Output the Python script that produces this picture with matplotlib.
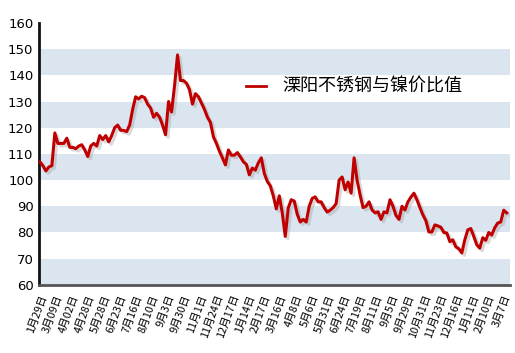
import matplotlib
matplotlib.use("Agg")
import matplotlib.pyplot as plt
import matplotlib.patheffects as pe
import numpy as np

plt.rcParams['font.family'] = ['Noto Sans CJK SC', 'DejaVu Sans']

# ratio series (evenly spaced trading days)
ratio = [
    107, 105.5, 103.5, 105, 105.5, 118, 114, 114, 114, 116,
    112.5, 112.5, 112, 113, 113.5, 111.5, 109, 113, 114, 113,
    117, 115.5, 117, 114.6, 117, 120, 121, 119, 119, 118.5,
    121, 127, 131.8, 131, 132, 131.5, 129, 127.5, 124, 125.5,
    124, 121, 117.3, 130, 126, 136, 147.8, 138, 138, 137,
    134.5, 129, 133, 131.8, 129.4, 127, 124, 122, 116.5, 114,
    111, 108.5, 105.8, 111.5, 109.5, 109.5, 110.5, 108.9, 107, 106,
    102, 104.6, 103.8, 106.6, 108.5, 102.5, 99.5, 97.8, 94, 89,
    94, 87.5, 78.5, 89.4, 92.5, 92, 87, 84, 85, 84,
    90, 93, 93.6, 91.7, 91.7, 89.5, 87.8, 88.5, 89.5, 91,
    100, 101.2, 96.3, 99.3, 95, 108.5, 100, 94.4, 89.5, 90,
    91.7, 88.6, 87.5, 87.9, 85, 87.9, 87.5, 92.5, 90, 86.5,
    85, 90, 88.6, 91.7, 93.5, 95, 92.5, 89.5, 86.7, 84.5,
    80.2, 80.2, 82.9, 82.5, 82, 80, 79.8, 76.5, 77.2, 74.5,
    73.8, 72.2, 77.2, 81, 81.5, 78.5, 75.3, 74, 78, 77,
    80, 79, 81.8, 83.6, 84, 88.5, 87.5,
]

date_labels = [
    "1月29日", "3月09日", "4月02日", "4月28日", "5月28日", "6月23日",
    "7月16日", "8月10日", "9月3日", "9月30日", "11月1日", "11月24日",
    "12月17日", "1月14日", "2月17日", "3月16日", "4月8日", "5月6日",
    "5月31日", "6月24日", "7月19日", "8月11日", "9月5日", "9月29日",
    "10月31日", "11月23日", "12月16日", "1月11日", "2月10日", "3月7日",
]

series_name = "溧阳不锈钢与镍价比值"

fig = plt.figure(figsize=(5.15, 3.53), dpi=100)
ax = fig.add_axes([0.0757, 0.193, 0.914, 0.742])

# alternating blue bands
for lo in range(60, 160, 20):
    ax.axhspan(lo, lo + 10, color="#dbe5f0", lw=0, zorder=0)

x = np.arange(len(ratio))
ax.plot(x, ratio, color="#c00000", lw=2.2, label=series_name, zorder=3,
        solid_joinstyle="round",
        path_effects=[pe.SimpleLineShadow(offset=(1.8, -1.8),
                                          shadow_color="#a0a0a0", alpha=0.4),
                      pe.Normal()])

ax.set_xlim(0, 157)
ax.set_ylim(60, 160)
ax.set_yticks(range(60, 161, 10))
ax.tick_params(axis="y", length=0, pad=4, labelsize=9.5)
ax.set_yticklabels([str(v) for v in range(60, 161, 10)], family="DejaVu Sans")

ticks = np.linspace(-0.3, 154.7, len(date_labels))
ax.set_xticks(ticks)
ax.set_xticklabels(date_labels, rotation=70, ha="right", va="top",
                   rotation_mode="anchor", fontsize=7.8)
ax.tick_params(axis="x", length=0, pad=6)

for s in ("top", "right"):
    ax.spines[s].set_visible(False)
ax.spines["left"].set_linewidth(2.0)
ax.spines["left"].set_color("#111111")
ax.spines["bottom"].set_linewidth(2.0)
ax.spines["bottom"].set_color("#555555")

leg = ax.legend(loc="center left", bbox_to_anchor=(0.44, 0.756),
                frameon=False, borderpad=0, borderaxespad=0,
                handlelength=1.1, handletextpad=0.9, prop={"size": 13})
for h in leg.get_lines():
    h.set_linewidth(2.0)
    h.set_path_effects([])

fig.savefig("out.png", dpi=100)
